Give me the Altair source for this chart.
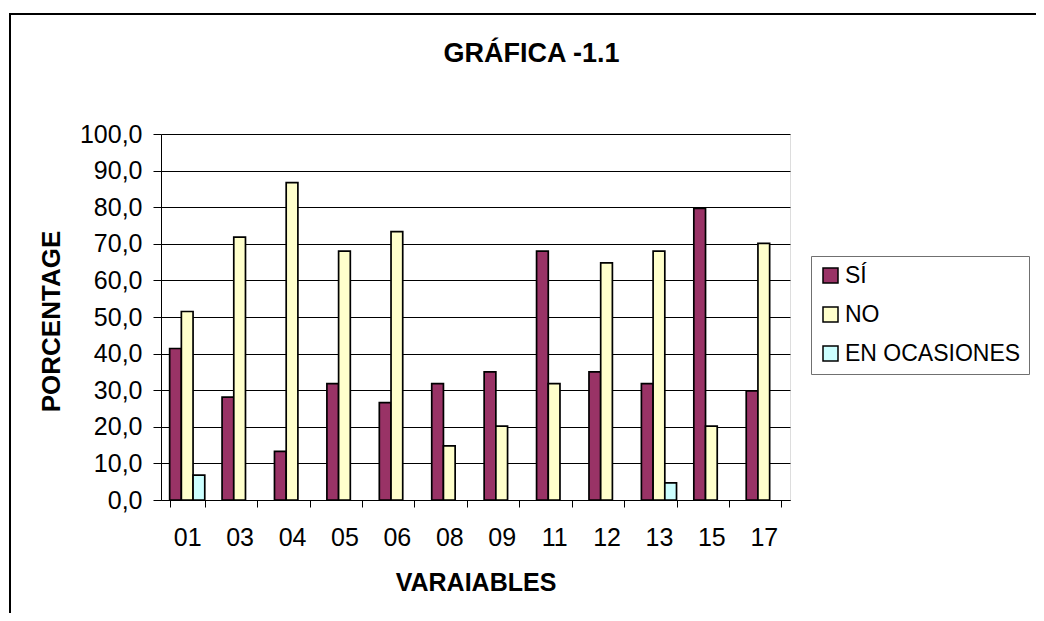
import altair as alt
import pandas as pd

categories = ["01", "03", "04", "05", "06", "08", "09", "11", "12", "13", "15", "17"]
series = ["SÍ", "NO", "EN OCASIONES"]
si = [41.4, 28.1, 13.3, 31.8, 26.6, 31.8, 35.0, 68.0, 35.0, 31.8, 79.7, 29.8]
no = [51.5, 71.8, 86.7, 68.0, 73.3, 14.8, 20.2, 31.8, 64.8, 68.0, 20.2, 70.1]
en_ocasiones = [6.8, 0, 0, 0, 0, 0, 0, 0, 0, 4.7, 0, 0]
colors = ["#993366", "#FFFFCC", "#CCFFFF"]

rows = []
for name, vals in zip(series, [si, no, en_ocasiones]):
    for c, v in zip(categories, vals):
        if v > 0:
            rows.append({"variable": c, "serie": name, "valor": v})
df = pd.DataFrame(rows)

FONT = "Liberation Sans"

bars = alt.Chart(df).mark_bar(stroke="black", strokeWidth=1.7).encode(
    x=alt.X(
        "variable:N",
        sort=categories,
        scale=alt.Scale(domain=categories, paddingInner=0.33, paddingOuter=0.165),
        axis=alt.Axis(
            title="VARAIABLES",
            labelAngle=0,
            tickBand="extent",
            tickSize=7,
            tickColor="black",
            domainColor="black",
            labelColor="black",
            labelFontSize=25,
            labelFont=FONT,
            labelPadding=18,
            titleFont=FONT,
            titleFontSize=25,
            titleFontWeight="bold",
            titleColor="black",
            titleBaseline="middle",
            titleY=82,
        ),
    ),
    xOffset=alt.XOffset(
        "serie:N",
        sort=series,
        scale=alt.Scale(domain=series, paddingInner=0, paddingOuter=0),
    ),
    y=alt.Y(
        "valor:Q",
        scale=alt.Scale(domain=[0, 100], nice=False),
        axis=alt.Axis(
            title="PORCENTAGE",
            values=list(range(0, 101, 10)),
            labelExpr="replace(format(datum.value, '.1f'), '.', ',')",
            grid=True,
            gridColor="black",
            gridWidth=1,
            gridOpacity=1,
            tickSize=8,
            tickColor="black",
            domainColor="black",
            labelColor="black",
            labelFontSize=25,
            labelFont=FONT,
            labelPadding=11,
            titleFont=FONT,
            titleFontSize=26,
            titleFontWeight="bold",
            titleColor="black",
            titleAngle=-90,
            titleAlign="center",
            titleBaseline="middle",
            titleX=-110,
            titleY=187,
        ),
    ),
    color=alt.Color(
        "serie:N",
        sort=series,
        scale=alt.Scale(domain=series, range=colors),
        legend=alt.Legend(
            title=None,
            orient="none",
            legendX=650,
            legendY=122,
            symbolType="square",
            symbolSize=225,
            symbolStrokeColor="black",
            symbolStrokeWidth=1.5,
            symbolOpacity=1,
            labelFont=FONT,
            labelFontSize=23,
            labelColor="black",
            labelOffset=3,
            labelLimit=0,
            rowPadding=15,
            padding=8,
            fillColor="white",
            strokeColor="#707070",
        ),
    ),
)

frame = alt.Chart(alt.Data(values=[{}])).mark_rect(
    fillOpacity=0, stroke="black", strokeWidth=2
).encode(
    x=alt.value(-151), x2=alt.value(1100), y=alt.value(-120), y2=alt.value(800)
)

chart = alt.layer(bars, frame).properties(
    width=629,
    height=366,
    autosize=alt.AutoSizeParams(type="none"),
    padding={"left": 153, "top": 126, "right": 246, "bottom": 113},
    title=alt.TitleParams(
        "GRÁFICA -1.1",
        font=FONT,
        fontSize=27,
        fontWeight="bold",
        color="black",
        anchor="middle",
        frame="group",
        baseline="middle",
        offset=-68,
        dx=56,
    ),
).configure_view(
    stroke="#808080", strokeWidth=1.5, fill="#C0C0C0"
).configure(background="white")

chart.save("out.html", embed_options={"renderer": "svg", "actions": False})
